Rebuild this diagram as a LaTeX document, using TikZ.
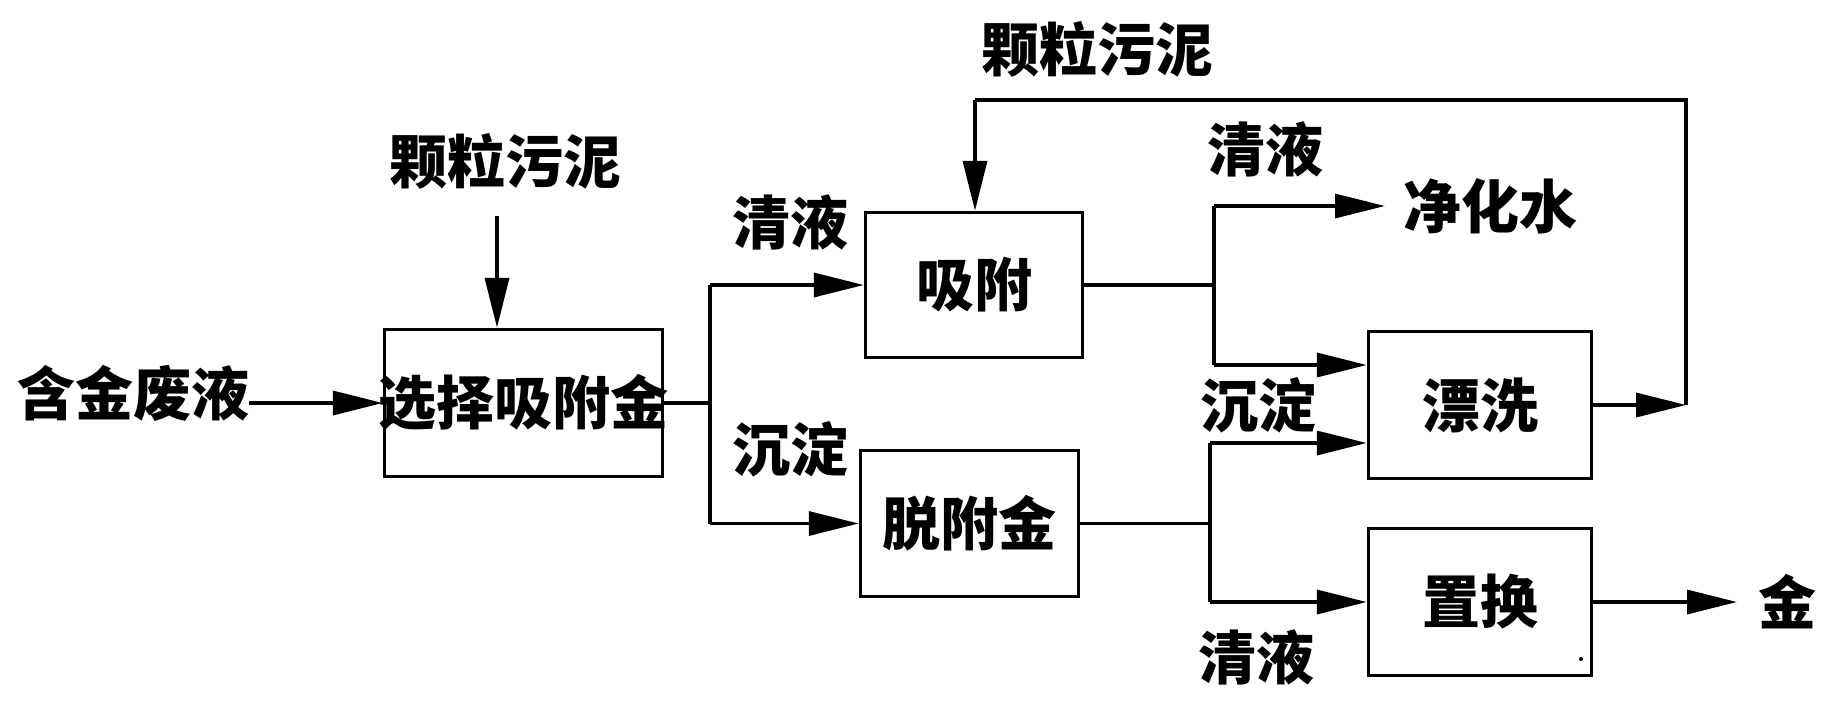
\documentclass[tikz,border=0pt]{standalone}
\usepackage{fontspec}
\newfontfamily\cjk{Noto Sans CJK SC}
\usetikzlibrary{arrows.meta}
\begin{document}
\begin{tikzpicture}[x=1pt,y=-1pt,
  box/.style={draw,line width=3.5pt,inner sep=0pt,font=\cjk\bfseries\fontsize{58}{62}\selectfont},
  lbl/.style={inner sep=0pt,font=\cjk\bfseries\fontsize{58}{62}\selectfont},
  ln/.style={line width=3.5pt},
  arr/.style={line width=3.5pt,-{Triangle[length=50pt,width=24pt]}}]
\useasboundingbox (0,0) rectangle (1839,718);
% boxes
\node[box,minimum width=278pt,minimum height=147pt] (sel) at (523.5,403) {\makebox[0pt]{选择吸附金}};
\node[box,minimum width=217pt,minimum height=145pt] (ads) at (974,285) {吸附};
\node[box,minimum width=218pt,minimum height=146pt] (des) at (969.5,523.5) {脱附金};
\node[box,minimum width=223pt,minimum height=147pt] (rin) at (1480,405) {漂洗};
\node[box,minimum width=223pt,minimum height=147pt] (rep) at (1480,602) {置换};
% labels
\node[lbl] (sludge1) at (505,161) {颗粒污泥};
\node[lbl] (feed) at (133,393) {含金废液};
\node[lbl] (clear1) at (790,222) {清液};
\node[lbl] (prec1) at (790,449) {沉淀};
\node[lbl] (sludge2) at (1097,49) {颗粒污泥};
\node[lbl] (clear2) at (1265,149) {清液};
\node[lbl] (water) at (1490,206) {净化水};
\node[lbl] (prec2) at (1258,405) {沉淀};
\node[lbl] (clear3) at (1256,657) {清液};
\node[lbl] (gold) at (1787,602) {金};
% junction coordinates
\coordinate (s1) at (497,216);
\coordinate (j1) at (710,403);
\coordinate (j1t) at (710,285);
\coordinate (j1b) at (710,523.5);
\coordinate (j2) at (1214,285);
\coordinate (j2t) at (1214,206);
\coordinate (j2b) at (1214,365);
\coordinate (j3) at (1210,523.5);
\coordinate (j3t) at (1210,443);
\coordinate (j3b) at (1210,602);
\coordinate (wend) at (1385,206);
\coordinate (lp) at (1686,405);
\coordinate (lpt) at (1686,100);
\coordinate (lpl) at (975,100);
\coordinate (gend) at (1737,602);
% connectors
\draw[arr] (s1) -- (s1 |- sel.north);
\draw[arr] (feed.east |- sel.west) -- (sel.west);
\draw[ln] (sel.east) -- (j1);
\draw[ln] (j1t) -- (j1b);
\draw[arr] (j1t) -- (ads.west);
\draw[arr] (j1b) -- (des.west);
\draw[ln] (ads.east) -- (j2);
\draw[ln] (j2t) -- (j2b);
\draw[arr] (j2t) -- (wend);
\draw[arr] (j2b) -- (j2b -| rin.west);
\draw[ln] (des.east) -- (j3);
\draw[ln] (j3t) -- (j3b);
\draw[arr] (j3t) -- (j3t -| rin.west);
\draw[arr] (j3b) -- (rep.west);
\draw[arr] (rin.east) -- (lp);
\draw[ln] (lp) -- (lpt) -- (lpl);
\draw[arr] (lpl) -- (lpl |- ads.north);
\draw[arr] (rep.east) -- (gend);
\fill (1581,659) circle (2pt);
\end{tikzpicture}
\end{document}
